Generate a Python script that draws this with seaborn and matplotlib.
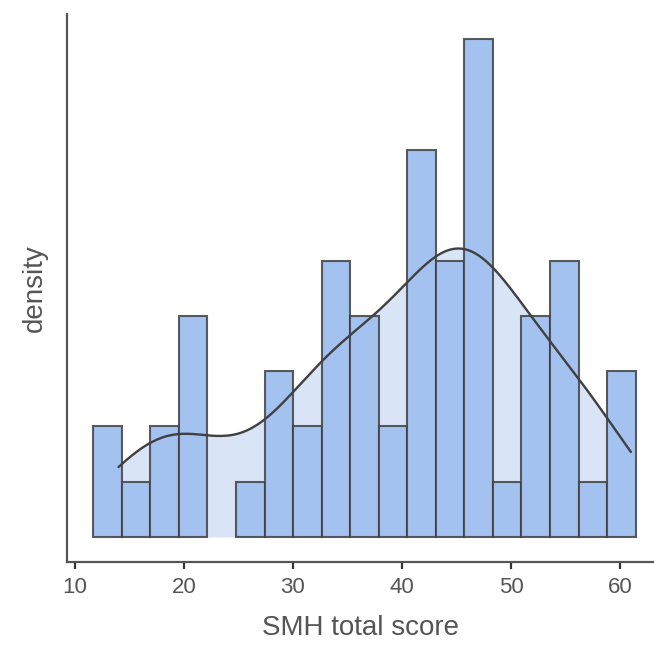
import numpy as np
import pandas as pd
import matplotlib
matplotlib.use("Agg")
import matplotlib.pyplot as plt
import seaborn as sns

# SMH total scores (integer scores)
scores = [
    14, 14,
    16,
    18, 19,
    20, 20, 21, 22,
    27,
    28, 29, 30,
    31, 32,
    33, 34, 34, 35, 35,
    36, 36, 37, 37,
    39, 40,
    41, 41, 42, 42, 43, 43, 43,
    44, 45, 45, 45, 45,
    46, 46, 47, 47, 47, 48, 48, 48, 48,
    50,
    51, 52, 52, 53,
    54, 55, 55, 56, 56,
    58,
    59, 60, 61,
]
x_ticks = [10, 20, 30, 40, 50, 60]
x_label = "SMH total score"
y_label = "density"

df = pd.DataFrame({"score": scores})

sns.set_style("white")
plt.rcParams["font.family"] = ["Liberation Sans", "DejaVu Sans"]

fig = plt.figure(figsize=(6.54, 6.53), dpi=100)
ax = fig.add_axes([0.1024, 0.1394, 0.8976, 0.8392])

sns.histplot(
    data=df, x="score", bins=19, binrange=(11.68, 61.44),
    kde=True, kde_kws={"bw_adjust": 0.85}, stat="count", ax=ax,
    color="#a4c2f0", alpha=1.0,
    edgecolor=(0.25, 0.25, 0.25, 0.85), linewidth=1.5,
)

# hide empty bins so no flat edge line is drawn
for p in ax.patches:
    if p.get_height() == 0:
        p.set_visible(False)

# density curve drawn over the bars, with a light fill behind them
kde_line = ax.lines[0]
kde_line.set_color("#404040")
kde_line.set_linewidth(1.7)
kde_line.set_zorder(4)
xs, ys = kde_line.get_xdata(), kde_line.get_ydata()
ax.fill_between(xs, 0, ys, color="#dae4f7", linewidth=0, zorder=0.5)

ax.set_xlim(9.27, 63.12)
ax.set_ylim(-0.452, 9.46)
ax.set_xticks(x_ticks)
ax.set_yticks([])

for side in ["top", "right"]:
    ax.spines[side].set_visible(False)
for side in ["left", "bottom"]:
    ax.spines[side].set_color("#555555")
    ax.spines[side].set_linewidth(1.6)

ax.tick_params(axis="x", bottom=True, length=5, width=1.6, color="#333333",
               labelsize=16, labelcolor="#555555", pad=6)

ax.set_xlabel(x_label, fontsize=20, color="#555555", labelpad=12)
ax.set_ylabel(y_label, fontsize=20, color="#555555", labelpad=14)

fig.savefig("out.png", dpi=100, facecolor="white")
